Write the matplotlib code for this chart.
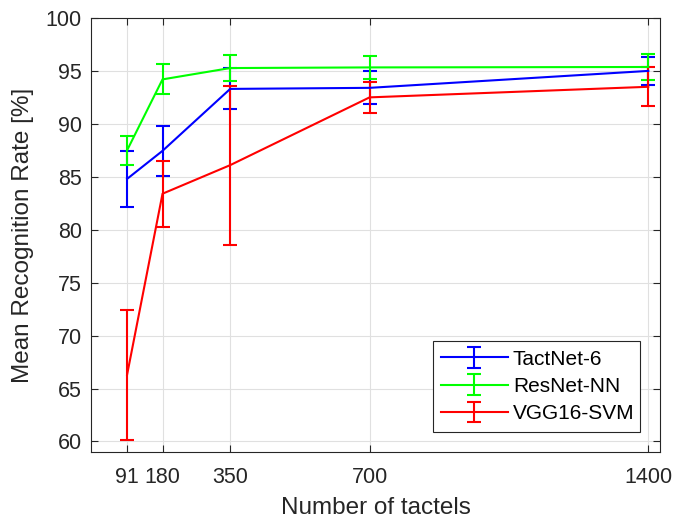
import numpy as np
import matplotlib
matplotlib.use("Agg")
import matplotlib.pyplot as plt

plt.rcParams['font.family'] = ['Liberation Sans', 'DejaVu Sans']

# number of tactels
tactels = np.array([91, 180, 350, 700, 1400])

# mean recognition rate [%] and error (half-range)
tactnet_mean = np.array([84.8, 87.45, 93.3, 93.4, 95.0])
tactnet_err = np.array([2.65, 2.33, 1.93, 1.56, 1.34])

resnet_mean = np.array([87.5, 94.2, 95.27, 95.33, 95.37])
resnet_err = np.array([1.36, 1.42, 1.22, 1.12, 1.26])

vgg_mean = np.array([66.3, 83.4, 86.1, 92.5, 93.5])
vgg_err = np.array([6.13, 3.1, 7.5, 1.49, 1.85])

labels = ["TactNet-6", "ResNet-NN", "VGG16-SVM"]
colors = ["#0000ff", "#00ff00", "#ff0000"]

fig = plt.figure(figsize=(6.73, 5.21), dpi=100)
ax = fig.add_axes([0.135, 0.1324, 0.846, 0.8331])

series = [(tactnet_mean, tactnet_err), (resnet_mean, resnet_err), (vgg_mean, vgg_err)]
for (m, e), lab, c in zip(series, labels, colors):
    ax.errorbar(tactels, m, yerr=e, color=c, label=lab, lw=1.5,
                capsize=5, capthick=1.5, elinewidth=1.5)

ax.set_xlim(0, 1430)
ax.set_ylim(59, 100)
ax.set_xticks(tactels)
ax.set_yticks(np.arange(60, 101, 5))
ax.grid(True, color="#e0e0e0", lw=0.8)
ax.set_axisbelow(True)

ax.tick_params(direction="in", top=True, right=True, labelsize=15.5,
               colors="#262626", length=5)
ax.tick_params(axis="x", pad=10.5)
ax.tick_params(axis="y", pad=6.5)
for s in ax.spines.values():
    s.set_color("#262626")
    s.set_linewidth(0.8)

ax.set_xlabel("Number of tactels", fontsize=17.5, color="#262626")
ax.set_ylabel("Mean Recognition Rate [%]", fontsize=17.5, color="#262626")
ax.xaxis.set_label_coords(0.5, -0.104)
ax.yaxis.set_label_coords(-0.10, 0.5)

leg = ax.legend(loc="lower left", bbox_to_anchor=(0.6005, 0.047, 0.3645, 0.207),
                mode="expand", fontsize=15, fancybox=False, framealpha=1,
                edgecolor="#262626", handlelength=3.2, handletextpad=0.25,
                borderpad=0.4, labelspacing=0.4, borderaxespad=0)
leg.get_frame().set_linewidth(0.8)

fig.savefig("out.png", dpi=100)
